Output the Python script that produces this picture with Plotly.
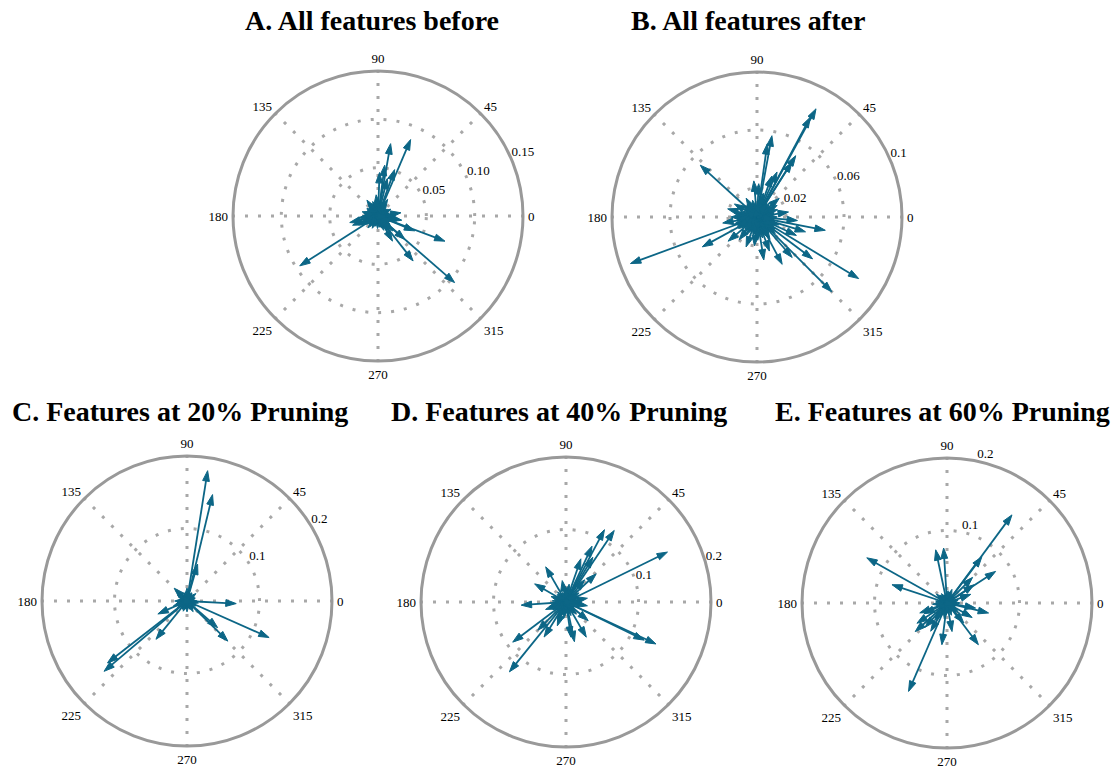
import plotly.graph_objects as go

# ---------------- data (angle in degrees, magnitude) ----------------
A_theta = [66.9, 80.1, 70.3, 82.5, 88, 76, 212.5, 339.4, 319, 308, 319, 338, 193, 127, 8, 200, 205, 350, 300,
           0, 15, 28, 40, 55, 100, 110, 125, 140, 150, 165, 175, 185, 195, 210, 222, 235, 245, 255, 268,
           280, 292, 305, 315, 325, 345, 355, 60, 95, 230,
           5, 22, 35, 48, 68, 85, 105, 118, 132, 145, 158, 170, 180, 190, 203, 215, 228, 240, 250, 262,
           275, 287, 298, 310, 320, 332, 340, 352]
A_r = [0.086, 0.076, 0.051, 0.053, 0.045, 0.040, 0.096, 0.074, 0.105, 0.059, 0.037, 0.041, 0.030, 0.017, 0.024,
       0.028, 0.022, 0.025, 0.030,
       0.018, 0.012, 0.015, 0.010, 0.014, 0.012, 0.016, 0.020, 0.011, 0.013, 0.017, 0.012, 0.020, 0.015, 0.018,
       0.012, 0.010, 0.014, 0.011, 0.013, 0.012, 0.016, 0.019, 0.022, 0.015, 0.020, 0.013, 0.020, 0.022, 0.016,
       0.010, 0.008, 0.012, 0.009, 0.011, 0.013, 0.009, 0.010, 0.012, 0.014, 0.010, 0.015, 0.016, 0.012, 0.014,
       0.011, 0.013, 0.009, 0.010, 0.008, 0.009, 0.011, 0.012, 0.014, 0.013, 0.011, 0.015, 0.010]

B_theta = [61.4, 61.9, 57.7, 57.5, 79.6, 82, 87, 66, 137.6, 164.5, 200.2, 208.6, 232, 279, 298, 311, 323, 349,
           343, 328.8, 315, 9, 70, 95, 150, 190, 220, 250, 265, 290, 335, 355, 20, 40,
           0, 12, 30, 48, 75, 105, 120, 135, 170, 180, 198, 212, 240, 258, 272, 285, 300, 318, 340,
           6, 25, 38, 55, 88, 112, 128, 142, 158, 175, 186, 195, 205, 216, 228, 245, 262, 278, 293, 305,
           312, 326, 332, 347, 352]
B_r = [0.085, 0.078, 0.050, 0.045, 0.057, 0.051, 0.023, 0.034, 0.053, 0.021, 0.093, 0.043, 0.020, 0.030, 0.037,
       0.037, 0.048, 0.048, 0.035, 0.082, 0.073, 0.022, 0.030, 0.025, 0.018, 0.024, 0.026, 0.022, 0.020, 0.025,
       0.030, 0.028, 0.015, 0.020,
       0.014, 0.012, 0.016, 0.013, 0.017, 0.012, 0.015, 0.011, 0.016, 0.018, 0.017, 0.015, 0.014, 0.013, 0.016,
       0.015, 0.018, 0.017, 0.016,
       0.010, 0.009, 0.011, 0.012, 0.010, 0.008, 0.011, 0.012, 0.010, 0.013, 0.014, 0.012, 0.015, 0.011, 0.013,
       0.010, 0.012, 0.011, 0.013, 0.014, 0.012, 0.015, 0.013, 0.011, 0.012]

C_theta = [81, 76.5, 74, 220.3, 217.9, 231, 204, 336, 357, 315.5, 319, 180, 200, 250, 135,
           0, 20, 40, 60, 90, 110, 150, 170, 190, 215, 240, 270, 290, 300, 330, 350,
           10, 30, 50, 75, 100, 125, 160, 205, 230, 260, 280, 310, 340]
C_r = [0.182, 0.151, 0.053, 0.150, 0.139, 0.068, 0.044, 0.124, 0.068, 0.079, 0.056, 0.017, 0.020, 0.015, 0.025,
       0.014, 0.012, 0.016, 0.013, 0.018, 0.012, 0.015, 0.011, 0.014, 0.016, 0.013, 0.015, 0.012, 0.017, 0.014, 0.016,
       0.010, 0.011, 0.009, 0.012, 0.010, 0.011, 0.009, 0.012, 0.010, 0.011, 0.009, 0.012, 0.010]

D_theta = [26.2, 56, 62, 59, 71, 43, 120, 150, 184, 217, 231, 225, 238, 282, 300, 335, 334, 278, 65, 50, 100,
           200, 250, 320, 350, 10,
           0, 20, 35, 80, 90, 130, 160, 175, 195, 210, 245, 262, 290, 310, 345,
           15, 45, 70, 110, 140, 170, 188, 205, 222, 240, 256, 270, 295, 315, 330, 355]
D_r = [0.156, 0.119, 0.113, 0.072, 0.063, 0.057, 0.056, 0.050, 0.062, 0.092, 0.124, 0.055, 0.057, 0.056, 0.056,
       0.137, 0.120, 0.049, 0.085, 0.040, 0.030, 0.030, 0.035, 0.040, 0.030, 0.030,
       0.020, 0.018, 0.022, 0.025, 0.020, 0.018, 0.022, 0.019, 0.024, 0.021, 0.026, 0.023, 0.020, 0.022, 0.019,
       0.013, 0.015, 0.012, 0.014, 0.016, 0.012, 0.015, 0.013, 0.016, 0.014, 0.012, 0.015, 0.013, 0.016, 0.014, 0.012]

E_theta = [53.6, 53, 33, 34, 93.5, 102, 150.6, 161.6, 246.5, 263, 307, 346.5, 222, 214, 310, 330, 200, 240,
           280, 45, 20, 350, 205, 228, 235,
           0, 15, 70, 85, 120, 140, 170, 185, 260, 290, 320,
           10, 40, 60, 110, 130, 160, 195, 215, 250, 270, 300, 340]
E_r = [0.151, 0.080, 0.080, 0.045, 0.076, 0.075, 0.127, 0.080, 0.133, 0.058, 0.072, 0.059, 0.059, 0.050, 0.036,
       0.040, 0.040, 0.045, 0.040, 0.050, 0.035, 0.040, 0.035, 0.045, 0.030,
       0.018, 0.016, 0.020, 0.017, 0.015, 0.019, 0.016, 0.020, 0.022, 0.018, 0.021,
       0.012, 0.013, 0.011, 0.012, 0.014, 0.012, 0.015, 0.013, 0.012, 0.014, 0.013, 0.012]

angle_ticks = [0, 45, 90, 135, 180, 225, 270, 315]

panels = [
    dict(key="polar", theta=A_theta, r=A_r, rmax=0.15, rticks=[0.05, 0.10, 0.15],
         rtext=["0.05", "0.10", "0.15"], lab_ang=23, title="A. All features before",
         cx=378, cy=216, tx=372, ty=21),
    dict(key="polar2", theta=B_theta, r=B_r, rmax=0.10, rticks=[0.02, 0.06, 0.10],
         rtext=["0.02", "0.06", "0.1"], lab_ang=23, title="B. All features after",
         cx=757, cy=217, tx=748, ty=21),
    dict(key="polar3", theta=C_theta, r=C_r, rmax=0.20, rticks=[0.1, 0.2],
         rtext=["0.1", "0.2"], lab_ang=31, title="C. Features at 20% Pruning",
         cx=187, cy=601, tx=180, ty=411),
    dict(key="polar4", theta=D_theta, r=D_r, rmax=0.20, rticks=[0.1, 0.2],
         rtext=["0.1", "0.2"], lab_ang=15.5, title="D. Features at 40% Pruning",
         cx=566, cy=602, tx=559, ty=411),
    dict(key="polar5", theta=E_theta, r=E_r, rmax=0.20, rticks=[0.1, 0.2],
         rtext=["0.1", "0.2"], lab_ang=78, title="E. Features at 60% Pruning",
         cx=947, cy=603, tx=942, ty=411),
]

W, H = 1120, 769
R = 145
ARROW = "#0c6686"
GRID = "#a8a8a8"
FONT = "Liberation Serif"

fig = go.Figure()
layout = dict(width=W, height=H, margin=dict(l=0, r=0, t=0, b=0),
              paper_bgcolor="white", plot_bgcolor="white", showlegend=False,
              annotations=[])

for p in panels:
    rr, tt, sz = [], [], []
    for a, m in zip(p["theta"], p["r"]):
        rr += [0, m, None]
        tt += [a, a, None]
        sz += [0, 11, 0]
    fig.add_trace(go.Scatterpolar(
        r=rr, theta=tt, mode="lines+markers", subplot=p["key"],
        line=dict(color=ARROW, width=1.8),
        marker=dict(symbol="arrow", size=sz, angleref="previous", color=ARROW,
                    opacity=1, line=dict(width=1, color=ARROW)),
        connectgaps=False, hoverinfo="skip", cliponaxis=False))
    fig.add_trace(go.Scatterpolar(
        r=p["rticks"], theta=[p["lab_ang"]] * len(p["rticks"]), mode="text",
        text=p["rtext"], textposition="top right", subplot=p["key"],
        textfont=dict(family=FONT, size=13, color="black"),
        hoverinfo="skip", cliponaxis=False))

    layout[p["key"]] = dict(
        domain=dict(x=[(p["cx"] - R) / W, (p["cx"] + R) / W],
                    y=[1 - (p["cy"] + R) / H, 1 - (p["cy"] - R) / H]),
        bgcolor="white",
        angularaxis=dict(rotation=0, direction="counterclockwise",
                         tickmode="array", tickvals=angle_ticks,
                         ticktext=[str(v) for v in angle_ticks],
                         showline=True, linecolor="#999999", linewidth=3,
                         showgrid=True, gridcolor=GRID, gridwidth=3, griddash="3px,10px",
                         ticks="outside", ticklen=1, tickcolor="rgba(0,0,0,0)",
                         tickfont=dict(family=FONT, size=13, color="black")),
        radialaxis=dict(range=[0, p["rmax"]], tickmode="array", tickvals=p["rticks"],
                        showticklabels=False, showline=False, ticks="",
                        showgrid=True, gridcolor=GRID, gridwidth=3, griddash="3px,10px"),
    )
    layout["annotations"].append(dict(
        text="<b>" + p["title"] + "</b>", x=p["tx"] / W, y=1 - p["ty"] / H,
        xref="paper", yref="paper", xanchor="center", yanchor="middle",
        showarrow=False, font=dict(family=FONT, size=28, color="black")))

fig.update_layout(**layout)
fig.write_html("out.html", config={"displayModeBar": False},
               post_script="document.body.style.margin='0';")
